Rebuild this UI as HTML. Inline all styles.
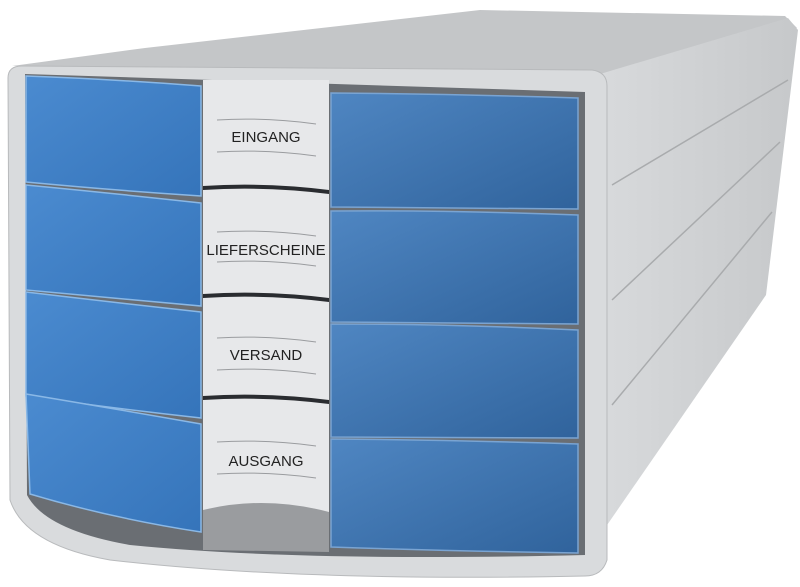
<!DOCTYPE html>
<html><head><meta charset="utf-8"><style>
html,body{margin:0;padding:0;background:#fff;width:800px;height:587px;overflow:hidden}
svg{display:block}
text{font-family:"Liberation Sans Narrow","Liberation Sans",sans-serif;font-size:15px;fill:#222}
</style></head><body>
<svg width="800" height="587" viewBox="0 0 800 587" xmlns="http://www.w3.org/2000/svg">
<defs>
<linearGradient id="bl" x1="0" y1="0" x2="1" y2="1"><stop offset="0" stop-color="#4b8bd0"/><stop offset="1" stop-color="#3574ba"/></linearGradient>
<linearGradient id="br" x1="0" y1="0" x2="1" y2="1"><stop offset="0" stop-color="#4f86c2"/><stop offset="1" stop-color="#30639c"/></linearGradient>
<linearGradient id="side" x1="0" y1="0" x2="1" y2="0"><stop offset="0" stop-color="#d8dadc"/><stop offset="1" stop-color="#c6c8ca"/></linearGradient>
</defs>
<!-- top face -->
<polygon points="12,66 145,48 480,10 785,16 797,28 607,74" fill="#c4c6c8"/>
<!-- right side -->
<polygon points="600,74 788,18 798,30 766,295 605,528" fill="url(#side)"/>
<g stroke="#a9abad" stroke-width="1.5" fill="none">
<line x1="612" y1="185" x2="788" y2="80"/>
<line x1="612" y1="300" x2="780" y2="142"/>
<line x1="612" y1="405" x2="772" y2="212"/>
</g>
<!-- front frame -->
<path d="M8,78 Q8,66 22,66 L592,70 Q607,72 607,86 L607,560 Q602,576 585,576 Q300,582 110,560 Q25,545 10,500 Z" fill="#d9dbdd" stroke="#b8babc"/>
<path d="M25,74 L585,92 L585,555 Q300,562 130,545 Q45,530 27,495 Z" fill="#6a6e73"/>
<!-- center strip -->
<rect x="203" y="80" width="126" height="470" fill="#e7e8ea"/>
<path d="M203,510 Q265,495 329,512 L329,552 L203,550 Z" fill="#9a9c9f"/>
<g fill="#2a2c30">
<path d="M203,186 Q265,182 329,190 L329,194 Q265,186 203,190Z"/>
<path d="M203,294 Q265,290 329,298 L329,302 Q265,294 203,298Z"/>
<path d="M203,396 Q265,392 329,400 L329,404 Q265,396 203,400Z"/>
</g>
<g stroke="#9a9c9f" stroke-width="1" fill="none">
<path d="M217,120 Q265,117 316,124"/><path d="M217,152 Q265,149 316,156"/>
<path d="M217,232 Q265,229 316,236"/><path d="M217,262 Q265,259 316,266"/>
<path d="M217,338 Q265,335 316,342"/><path d="M217,370 Q265,367 316,374"/>
<path d="M217,442 Q265,439 316,446"/><path d="M217,474 Q265,471 316,478"/>
</g>
<text x="266" y="142" text-anchor="middle">EINGANG</text>
<text x="266" y="255" text-anchor="middle">LIEFERSCHEINE</text>
<text x="266" y="360" text-anchor="middle">VERSAND</text>
<text x="266" y="466" text-anchor="middle">AUSGANG</text>
<!-- left drawers -->
<g stroke="#8ab8e6" stroke-width="1.5">
<path d="M26,76 Q110,79 201,86 L201,196 Q110,190 26,182 Z" fill="url(#bl)"/>
<path d="M26,185 Q110,193 201,203 L201,306 Q110,298 26,290 Z" fill="url(#bl)"/>
<path d="M26,292 Q110,302 201,312 L201,418 Q110,408 26,396 Z" fill="url(#bl)"/>
<path d="M26,394 Q110,408 201,424 L201,532 Q110,518 30,494 Z" fill="url(#bl)"/>
</g>
<!-- right drawers -->
<g stroke="#7aa4d2" stroke-width="1.5">
<path d="M331,93 Q450,94 578,98 L578,209 L331,207 Z" fill="url(#br)"/>
<path d="M331,211 Q450,210 578,215 L578,324 L331,322 Z" fill="url(#br)"/>
<path d="M331,324 Q450,324 578,330 L578,438 L331,437 Z" fill="url(#br)"/>
<path d="M331,439 Q450,440 578,444 L578,553 Q450,551 331,547 Z" fill="url(#br)"/>
</g>
</svg>
</body></html>
